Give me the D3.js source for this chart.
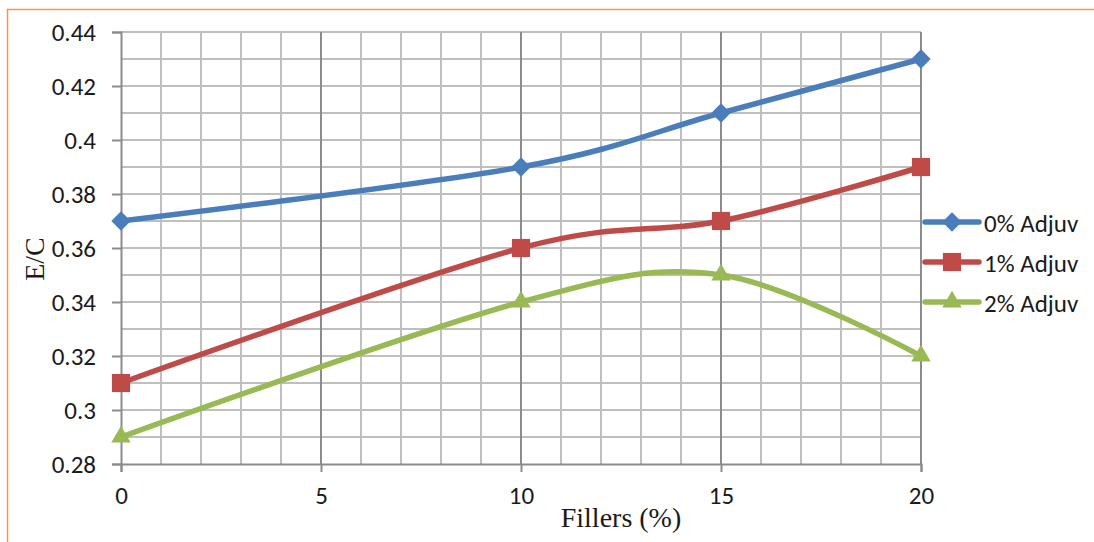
<!DOCTYPE html>
<html>
<head>
<meta charset="utf-8">
<script src="https://cdn.jsdelivr.net/npm/d3@7"></script>
<style>
  body { margin: 0; background: #fff; }
  svg { display: block; }
</style>
</head>
<body>
<svg id="chart"></svg>
<script>
const fillers = [0, 10, 15, 20];
const adjuv0 = [0.37, 0.39, 0.41, 0.43];
const adjuv1 = [0.31, 0.36, 0.37, 0.39];
const adjuv2 = [0.29, 0.34, 0.35, 0.32];
const seriesNames = ['0% Adjuv', '1% Adjuv', '2% Adjuv'];
const xTicks = [0, 5, 10, 15, 20];
const yTicks = [0.28, 0.3, 0.32, 0.34, 0.36, 0.38, 0.4, 0.42, 0.44];

const width = 1094, height = 542;
const margin = {left: 121, top: 32, right: 173, bottom: 78};
const plotW = width - margin.left - margin.right;
const plotH = height - margin.top - margin.bottom;

const svg = d3.select('#chart').attr('width', width).attr('height', height);

// orange frame (only top and left edges are visible)
svg.append('path')
  .attr('d', `M7.5,${height} V9.5 H${width}`)
  .attr('fill', 'none')
  .attr('stroke', '#f79646')
  .attr('stroke-width', 1.5);

const g = svg.append('g').attr('transform', `translate(${margin.left},${margin.top})`);

const x = d3.scaleLinear().domain([0, 20]).range([0, plotW]);
const y = d3.scaleLinear().domain([0.28, 0.44]).range([plotH, 0]);

// minor grid
g.append('g').selectAll('line')
  .data(d3.range(1, 20).filter(v => v % 5 !== 0))
  .join('line')
  .attr('x1', d => x(d)).attr('x2', d => x(d))
  .attr('y1', 0).attr('y2', plotH)
  .attr('stroke', '#bfbfbf').attr('stroke-width', 2);

g.append('g').selectAll('line')
  .data(d3.range(29, 45).map(v => v / 100))
  .join('line')
  .attr('x1', 0).attr('x2', plotW)
  .attr('y1', d => y(d)).attr('y2', d => y(d))
  .attr('stroke', '#bfbfbf').attr('stroke-width', 2);

// major vertical grid
g.append('g').selectAll('line')
  .data(xTicks.slice(1))
  .join('line')
  .attr('x1', d => x(d)).attr('x2', d => x(d))
  .attr('y1', 0).attr('y2', plotH)
  .attr('stroke', '#8c8c8c').attr('stroke-width', 2);

// axes
const xAxis = g.append('g')
  .attr('transform', `translate(0,${plotH})`)
  .call(d3.axisBottom(x).tickValues(xTicks).tickSize(8).tickPadding(14).tickFormat(d3.format('d')));
const yAxis = g.append('g')
  .call(d3.axisLeft(y).tickValues(yTicks).tickSize(9).tickPadding(16).tickFormat(d => String(+d.toFixed(2))));

[xAxis, yAxis].forEach(ax => {
  ax.attr('font-size', null).attr('font-family', null);
  ax.select('.domain').attr('stroke', '#8c8c8c').attr('stroke-width', 2);
  ax.selectAll('.tick line').attr('stroke', '#8c8c8c').attr('stroke-width', 2);
  ax.selectAll('.tick text')
    .attr('fill', '#1a1a1a')
    .style('font-family', 'Carlito, "Open Sans", sans-serif')
    .style('font-size', '25px');
});

// axis titles
svg.append('text')
  .attr('x', margin.left + x(12.5))
  .attr('y', 527)
  .attr('text-anchor', 'middle')
  .style('font-family', '"Liberation Serif", "Times New Roman", serif')
  .style('font-size', '28px')
  .attr('fill', '#1a1a1a')
  .text('Fillers (%)');

svg.append('text')
  .attr('transform', 'translate(44,259) rotate(-90)')
  .attr('text-anchor', 'middle')
  .style('font-family', '"Liberation Serif", "Times New Roman", serif')
  .style('font-size', '28px')
  .attr('fill', '#1a1a1a')
  .text('E/C');

const series = [
  {name: seriesNames[0], values: adjuv0, color: '#4a7ebb', symbol: d3.symbolDiamond2, size: 240},
  {name: seriesNames[1], values: adjuv1, color: '#be4b48', symbol: d3.symbolSquare2, size: 420},
  {name: seriesNames[2], values: adjuv2, color: '#98b954', symbol: d3.symbolTriangle2, size: 270}
];

const line = d3.line()
  .x(d => x(d[0]))
  .y(d => y(d[1]))
  .curve(d3.curveCatmullRom.alpha(0));

series.forEach(s => {
  const pts = fillers.map((f, i) => [f, s.values[i]]);
  g.append('path')
    .datum(pts)
    .attr('d', line)
    .attr('fill', 'none')
    .attr('stroke', s.color)
    .attr('stroke-width', 5.5)
    .attr('stroke-linecap', 'round');

  g.append('g').selectAll('path')
    .data(pts)
    .join('path')
    .attr('transform', d => `translate(${x(d[0])},${y(d[1])})`)
    .attr('d', d3.symbol().type(s.symbol).size(s.size))
    .attr('fill', s.color);
});

// legend
const legend = svg.append('g').attr('transform', 'translate(925,222)');
series.forEach((s, i) => {
  const row = legend.append('g').attr('transform', `translate(0,${i * 40})`);
  row.append('line')
    .attr('x1', 0).attr('x2', 54)
    .attr('stroke', s.color).attr('stroke-width', 5.5).attr('stroke-linecap', 'round');
  row.append('path')
    .attr('transform', 'translate(27,0)')
    .attr('d', d3.symbol().type(s.symbol).size(s.size))
    .attr('fill', s.color);
  row.append('text')
    .attr('x', 59).attr('y', 1).attr('dy', '0.35em')
    .attr('fill', '#1a1a1a')
    .style('font-family', 'Carlito, "Open Sans", sans-serif')
    .style('font-size', '25px')
    .text(s.name);
});
</script>
</body>
</html>
